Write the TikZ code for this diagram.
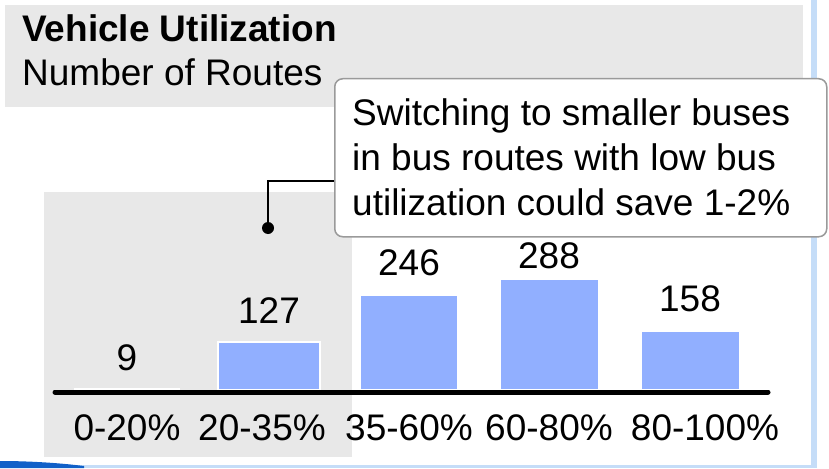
\documentclass[tikz,border=0pt]{standalone}
\usepackage{fontspec}
\setmainfont{Liberation Sans}
\definecolor{panel}{HTML}{E8E8E8}
\definecolor{barblue}{HTML}{91AFFF}
\definecolor{frameblue}{HTML}{C5DDF8}
\definecolor{darkblue}{HTML}{1060C8}
\definecolor{callgray}{HTML}{9A9A9A}
\tikzset{
  big/.style={font=\fontsize{37}{44}\selectfont, inner sep=0pt},
  val/.style={big, anchor=base},
  cat/.style={big, anchor=base},
  bar/.style={fill=barblue, draw=white, line width=1.5pt},
  callbox/.style={draw=callgray, fill=white, line width=1.5pt, rounded corners=8pt, anchor=north west, minimum width=492pt, minimum height=158pt, inner sep=0pt},
  callline/.style={big, anchor=base west},
}
\begin{document}
\begin{tikzpicture}[x=1pt,y=-1pt]
\useasboundingbox (0,0) rectangle (829,468);
% frame
\fill[frameblue] (811,0) rectangle (817,468);
\fill[frameblue] (0,465) rectangle (817,468);
\fill[darkblue] (0,461) .. controls (30,461) and (60,463) .. (84,466) -- (84,468) -- (0,468) -- cycle;
% panels
\fill[panel] (5,5) rectangle (803,107);
\fill[panel] (44,192) rectangle (352,457);
% title
\node[big, anchor=base west, font=\fontsize{37}{44}\selectfont\bfseries] (title) at (22,42) {Vehicle Utilization};
\node[big, anchor=base west] (subtitle) at (22,86) {Number of Routes};
% bars
\draw[bar] (75,390) rectangle (179,388.5);
\draw[bar] (218,390) rectangle (320,342);
\draw[bar] (360,390) rectangle (458,295);
\draw[bar] (500,390) rectangle (599,279);
\draw[bar] (641,390) rectangle (740,331);
% values
\node[val] (v1) at (127,370) {9};
\node[val] (v2) at (269,323) {127};
\node[val] (v3) at (409,275) {246};
\node[val] (v4) at (549,268) {288};
\node[val] (v5) at (690,311) {158};
% axis
\draw[line width=5pt, line cap=round] (55,392) -- (768,392);
% categories
\node[cat] (c1) at (127,440) {0-20\%};
\node[cat] (c2) at (262,440) {20-35\%};
\node[cat] (c3) at (409,440) {35-60\%};
\node[cat] (c4) at (549,440) {60-80\%};
\node[cat] (c5) at (705,440) {80-100\%};
% callout
\coordinate (dot) at (268,228);
\node[callbox] (call) at (334,78) {};
\draw[line width=1.8pt] ([yshift=-23pt]call.west) -| (dot);
\fill (dot) circle (6pt);
\node[callline] (l1) at (352,125) {Switching to smaller buses};
\node[callline] (l2) at (352,170) {in bus routes with low bus};
\node[callline] (l3) at (352,215) {utilization could save 1-2\%};
\end{tikzpicture}
\end{document}
